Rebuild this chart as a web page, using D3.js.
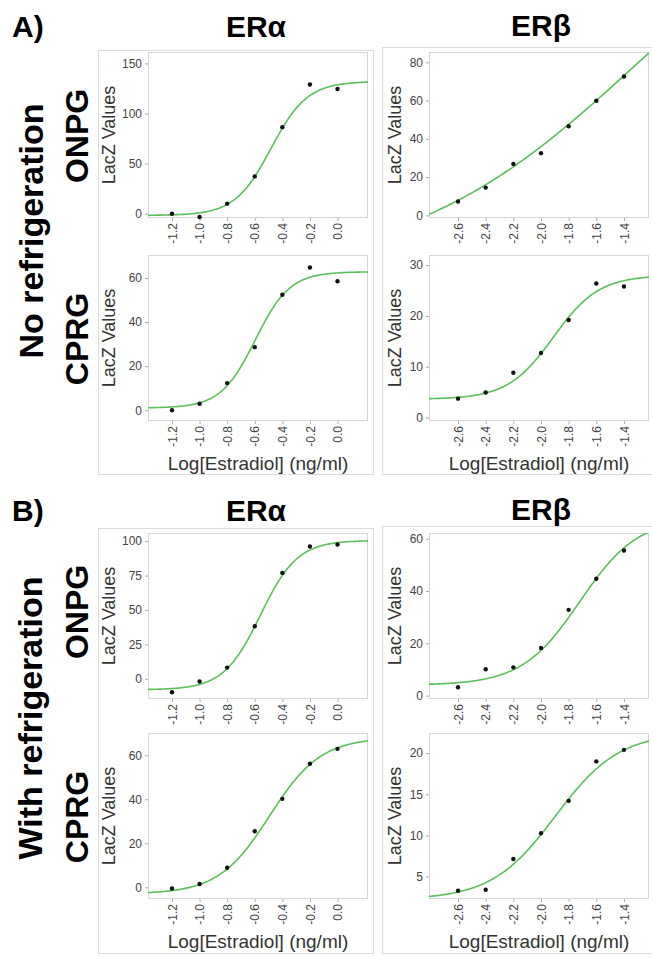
<!DOCTYPE html>
<html>
<head>
<meta charset="utf-8">
<script src="https://cdn.jsdelivr.net/npm/d3@7"></script>
<style>
  body { margin: 0; background: #fff; }
  svg { display: block; font-family: "Liberation Sans", Arial, sans-serif; }
</style>
</head>
<body>
<div id="chart"></div>
<script>
// Doses (log ng/ml) and tick labels
const doseAlpha = [-1.2, -1.0, -0.8, -0.6, -0.4, -0.2, 0.0];
const doseBeta = [-2.6, -2.4, -2.2, -2.0, -1.8, -1.6, -1.4];
const xDomAlpha = [-1.374, 0.221];
const xDomBeta = [-2.81, -1.219];

// LacZ values
const noRefAlphaONPG = [0, -3.3, 10, 37.2, 86.4, 128.9, 124.5];
const noRefBetaONPG = [7.2, 14.5, 26.9, 32.5, 46.6, 59.9, 72.6];
const noRefAlphaCPRG = [0, 2.9, 12.3, 28.6, 52.4, 64.7, 58.5];
const noRefBetaCPRG = [3.7, 4.9, 8.8, 12.7, 19.2, 26.4, 25.8];
const refAlphaONPG = [-9.8, -2, 8.1, 38.1, 76.9, 96.1, 97.5];
const refBetaONPG = [3.2, 10.1, 10.8, 18.2, 32.8, 44.7, 55.5];
const refAlphaCPRG = [-0.5, 1.5, 8.9, 25.5, 40.2, 56.1, 62.9];
const refBetaCPRG = [3.28, 3.4, 7.13, 10.26, 14.2, 19.0, 20.4];

// 4-parameter logistic fits: [bottom, top, logEC50, hill]
const fitNoRefAlphaONPG = [-1.7, 132, -0.482, 3.3];
const fitNoRefBetaONPG = [-30.4, 189.6, -1.3, 0.521];
const fitNoRefAlphaCPRG = [1, 62.8, -0.596, 3.47];
const fitNoRefBetaCPRG = [3.6, 28, -1.911, 2.63];
const fitRefAlphaONPG = [-8, 100.5, -0.559, 3.24];
const fitRefBetaONPG = [4, 68, -1.719, 2.07];
const fitRefAlphaCPRG = [-3, 68, -0.492, 2.345];
const fitRefBetaCPRG = [2.2, 22.5, -1.896, 1.88];

// y ranges and y ticks
const yDomNoRefAlphaONPG = [-4.3, 161.4];
const yDomNoRefBetaONPG = [-1.4, 85.4];
const yDomNoRefAlphaCPRG = [-4.9, 70.4];
const yDomNoRefBetaCPRG = [-0.7, 32];
const yDomRefAlphaONPG = [-14.7, 105.9];
const yDomRefBetaONPG = [-1.3, 62.2];
const yDomRefAlphaCPRG = [-5.3, 70.1];
const yDomRefBetaCPRG = [2.27, 22.45];

const yTicksNoRefAlphaONPG = [0, 50, 100, 150];
const yTicksNoRefBetaONPG = [0, 20, 40, 60, 80];
const yTicksNoRefAlphaCPRG = [0, 20, 40, 60];
const yTicksNoRefBetaCPRG = [0, 10, 20, 30];
const yTicksRefAlphaONPG = [0, 25, 50, 75, 100];
const yTicksRefBetaONPG = [0, 20, 40, 60];
const yTicksRefAlphaCPRG = [0, 20, 40, 60];
const yTicksRefBetaCPRG = [5, 10, 15, 20];

const width = 652, height = 957;
const rowTops = [52, 255, 533, 733];
const colLefts = [148, 429];
const plotW = 220, plotH = 166;
const green = "#5cbf5c";

const panels = [
  { row: 0, col: 0, vals: noRefAlphaONPG, fit: fitNoRefAlphaONPG, yDom: yDomNoRefAlphaONPG, yTicks: yTicksNoRefAlphaONPG },
  { row: 0, col: 1, vals: noRefBetaONPG, fit: fitNoRefBetaONPG, yDom: yDomNoRefBetaONPG, yTicks: yTicksNoRefBetaONPG },
  { row: 1, col: 0, vals: noRefAlphaCPRG, fit: fitNoRefAlphaCPRG, yDom: yDomNoRefAlphaCPRG, yTicks: yTicksNoRefAlphaCPRG, xLabel: true },
  { row: 1, col: 1, vals: noRefBetaCPRG, fit: fitNoRefBetaCPRG, yDom: yDomNoRefBetaCPRG, yTicks: yTicksNoRefBetaCPRG, xLabel: true },
  { row: 2, col: 0, vals: refAlphaONPG, fit: fitRefAlphaONPG, yDom: yDomRefAlphaONPG, yTicks: yTicksRefAlphaONPG },
  { row: 2, col: 1, vals: refBetaONPG, fit: fitRefBetaONPG, yDom: yDomRefBetaONPG, yTicks: yTicksRefBetaONPG },
  { row: 3, col: 0, vals: refAlphaCPRG, fit: fitRefAlphaCPRG, yDom: yDomRefAlphaCPRG, yTicks: yTicksRefAlphaCPRG, xLabel: true },
  { row: 3, col: 1, vals: refBetaCPRG, fit: fitRefBetaCPRG, yDom: yDomRefBetaCPRG, yTicks: yTicksRefBetaCPRG, xLabel: true }
];

const svg = d3.select("#chart").append("svg")
  .attr("width", width)
  .attr("height", height);

// Column frames
const frames = [
  [98, 50, 275, 424], [382, 47, 290, 427],
  [98, 528, 275, 425], [382, 526, 290, 427]
];
svg.selectAll("rect.frame")
  .data(frames)
  .join("rect")
  .attr("class", "frame")
  .attr("x", d => d[0] + 0.5).attr("y", d => d[1] + 0.5)
  .attr("width", d => d[2]).attr("height", d => d[3])
  .attr("fill", "none").attr("stroke", "#dcdcdc");

// Section letters and column titles
const heads = [
  { t: "A)", x: 12, y: 37, a: "start" }, { t: "ERα", x: 256, y: 37, a: "middle" }, { t: "ERβ", x: 541, y: 36, a: "middle" },
  { t: "B)", x: 12, y: 521, a: "start" }, { t: "ERα", x: 256, y: 521, a: "middle" }, { t: "ERβ", x: 541, y: 520, a: "middle" }
];
svg.selectAll("text.head")
  .data(heads)
  .join("text")
  .attr("class", "head")
  .attr("x", d => d.x).attr("y", d => d.y)
  .attr("text-anchor", d => d.a)
  .attr("font-size", 30).attr("font-weight", "bold")
  .text(d => d.t);

// Rotated row labels
const rowLabels = [
  { t: "No refrigeration", x: 43, y: 231, s: 34 },
  { t: "ONPG", x: 88, y: 136, s: 32 },
  { t: "CPRG", x: 88, y: 339, s: 32 },
  { t: "With refrigeration", x: 42, y: 718, s: 34 },
  { t: "ONPG", x: 88, y: 612, s: 32 },
  { t: "CPRG", x: 88, y: 817, s: 32 }
];
svg.selectAll("text.rowlab")
  .data(rowLabels)
  .join("text")
  .attr("class", "rowlab")
  .attr("transform", d => `translate(${d.x},${d.y}) rotate(-90)`)
  .attr("text-anchor", "middle")
  .attr("font-size", d => d.s).attr("font-weight", "bold")
  .text(d => d.t);

const logistic = (p, x) => p[0] + (p[1] - p[0]) / (1 + Math.pow(10, (p[2] - x) * p[3]));

panels.forEach((p, i) => {
  const left = colLefts[p.col], top = rowTops[p.row];
  const dose = p.col === 0 ? doseAlpha : doseBeta;
  const xDom = p.col === 0 ? xDomAlpha : xDomBeta;

  const x = d3.scaleLinear().domain(xDom).range([left, left + plotW]);
  const y = d3.scaleLinear().domain(p.yDom).range([top + plotH, top]);

  const g = svg.append("g");

  g.append("clipPath").attr("id", "clip" + i)
    .append("rect")
    .attr("x", left).attr("y", top).attr("width", plotW).attr("height", plotH);

  // Plot border
  g.append("rect")
    .attr("x", left + 0.5).attr("y", top + 0.5)
    .attr("width", plotW - 1).attr("height", plotH - 1)
    .attr("fill", "none").attr("stroke", "#d6d6d6");

  // Y axis
  const yAxis = g.append("g")
    .attr("transform", `translate(${left},0)`)
    .call(d3.axisLeft(y).tickValues(p.yTicks).tickSize(3).tickPadding(3).tickFormat(d3.format("d")));
  yAxis.select(".domain").remove();
  yAxis.selectAll("line").attr("stroke", "#aaa");
  yAxis.selectAll("text").attr("font-size", 12).attr("fill", "#444")
    .attr("font-family", "Liberation Sans, Arial, sans-serif");

  // X axis with rotated labels
  const xAxis = g.append("g")
    .attr("transform", `translate(0,${top + plotH})`)
    .call(d3.axisBottom(x).tickValues(dose).tickSize(3).tickFormat(d => d.toFixed(1)));
  xAxis.select(".domain").remove();
  xAxis.selectAll("line").attr("stroke", "#aaa");
  xAxis.selectAll("text")
    .attr("font-size", 12).attr("fill", "#444")
    .attr("font-family", "Liberation Sans, Arial, sans-serif")
    .attr("text-anchor", "end")
    .attr("y", 0).attr("dy", "0.35em")
    .attr("transform", "translate(0,5) rotate(-90)");

  // Fitted curve
  const xs = d3.range(0, 201).map(k => xDom[0] + (xDom[1] - xDom[0]) * k / 200);
  g.append("path")
    .datum(xs)
    .attr("clip-path", `url(#clip${i})`)
    .attr("fill", "none")
    .attr("stroke", green)
    .attr("stroke-width", 1.6)
    .attr("d", d3.line().x(d => x(d)).y(d => y(logistic(p.fit, d))));

  // Data points
  g.selectAll("circle")
    .data(dose.map((d, k) => [d, p.vals[k]]))
    .join("circle")
    .attr("cx", d => x(d[0])).attr("cy", d => y(d[1]))
    .attr("r", 2.2).attr("fill", "#111");

  // Axis titles
  const labX = p.col === 0 ? left - 33 : left - 28;
  g.append("text")
    .attr("transform", `translate(${labX},${top + plotH / 2}) rotate(-90)`)
    .attr("text-anchor", "middle")
    .attr("font-size", 18).attr("fill", "#333")
    .text("LacZ Values");

  if (p.xLabel) {
    g.append("text")
      .attr("x", left + plotW / 2).attr("y", top + plotH + 49)
      .attr("text-anchor", "middle")
      .attr("font-size", 19).attr("fill", "#333")
      .text("Log[Estradiol] (ng/ml)");
  }
});
</script>
</body>
</html>
